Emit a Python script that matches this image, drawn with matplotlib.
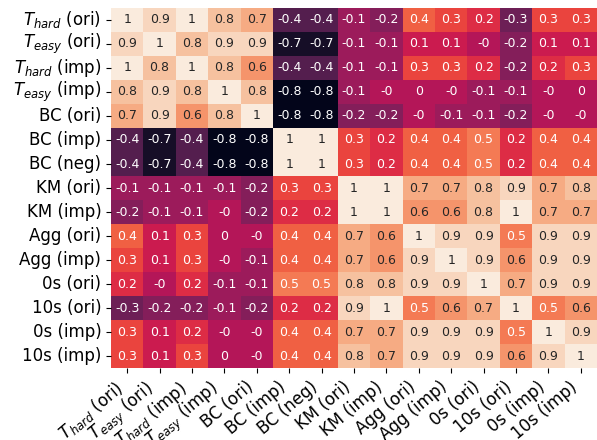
import matplotlib
matplotlib.use("Agg")
import matplotlib.pyplot as plt
import numpy as np
import pandas as pd
import seaborn as sns

labels = [r"$T_{hard}$ (ori)", r"$T_{easy}$ (ori)", r"$T_{hard}$ (imp)", r"$T_{easy}$ (imp)",
          "BC (ori)", "BC (imp)", "BC (neg)", "KM (ori)", "KM (imp)",
          "Agg (ori)", "Agg (imp)", "0s (ori)", "10s (ori)", "0s (imp)", "10s (imp)"]

# correlation values, rounded to 1 decimal as shown (-0.0 shows as "-0")
corr = [
    [1, 0.9, 1, 0.8, 0.7, -0.4, -0.4, -0.1, -0.2, 0.4, 0.3, 0.2, -0.3, 0.3, 0.3],
    [0.9, 1, 0.8, 0.9, 0.9, -0.7, -0.7, -0.1, -0.1, 0.1, 0.1, -0.0, -0.2, 0.1, 0.1],
    [1, 0.8, 1, 0.8, 0.6, -0.4, -0.4, -0.1, -0.1, 0.3, 0.3, 0.2, -0.2, 0.2, 0.3],
    [0.8, 0.9, 0.8, 1, 0.8, -0.8, -0.8, -0.1, -0.0, 0, -0.0, -0.1, -0.1, -0.0, 0],
    [0.7, 0.9, 0.6, 0.8, 1, -0.8, -0.8, -0.2, -0.2, -0.0, -0.1, -0.1, -0.2, -0.0, -0.0],
    [-0.4, -0.7, -0.4, -0.8, -0.8, 1, 1, 0.3, 0.2, 0.4, 0.4, 0.5, 0.2, 0.4, 0.4],
    [-0.4, -0.7, -0.4, -0.8, -0.8, 1, 1, 0.3, 0.2, 0.4, 0.4, 0.5, 0.2, 0.4, 0.4],
    [-0.1, -0.1, -0.1, -0.1, -0.2, 0.3, 0.3, 1, 1, 0.7, 0.7, 0.8, 0.9, 0.7, 0.8],
    [-0.2, -0.1, -0.1, -0.0, -0.2, 0.2, 0.2, 1, 1, 0.6, 0.6, 0.8, 1, 0.7, 0.7],
    [0.4, 0.1, 0.3, 0, -0.0, 0.4, 0.4, 0.7, 0.6, 1, 0.9, 0.9, 0.5, 0.9, 0.9],
    [0.3, 0.1, 0.3, -0.0, -0.1, 0.4, 0.4, 0.7, 0.6, 0.9, 1, 0.9, 0.6, 0.9, 0.9],
    [0.2, -0.0, 0.2, -0.1, -0.1, 0.5, 0.5, 0.8, 0.8, 0.9, 0.9, 1, 0.7, 0.9, 0.9],
    [-0.3, -0.2, -0.2, -0.1, -0.2, 0.2, 0.2, 0.9, 1, 0.5, 0.6, 0.7, 1, 0.5, 0.6],
    [0.3, 0.1, 0.2, -0.0, -0.0, 0.4, 0.4, 0.7, 0.7, 0.9, 0.9, 0.9, 0.5, 1, 0.9],
    [0.3, 0.1, 0.3, 0, -0.0, 0.4, 0.4, 0.8, 0.7, 0.9, 0.9, 0.9, 0.6, 0.9, 1],
]

df = pd.DataFrame(np.array(corr, dtype=float), index=labels, columns=labels)

fig = plt.figure(figsize=(5.97, 4.4), dpi=100)
ax = fig.add_axes([111 / 597, 1 - 368 / 440, 486 / 597, 360 / 440])
sns.heatmap(df, annot=True, fmt="g", cbar=False, ax=ax, annot_kws={"size": 9})
ax.set_xticklabels(labels, rotation=40, ha="right", fontsize=12)
ax.set_yticklabels(labels, rotation=0, fontsize=12)

fig.savefig("out.png", dpi=100)
